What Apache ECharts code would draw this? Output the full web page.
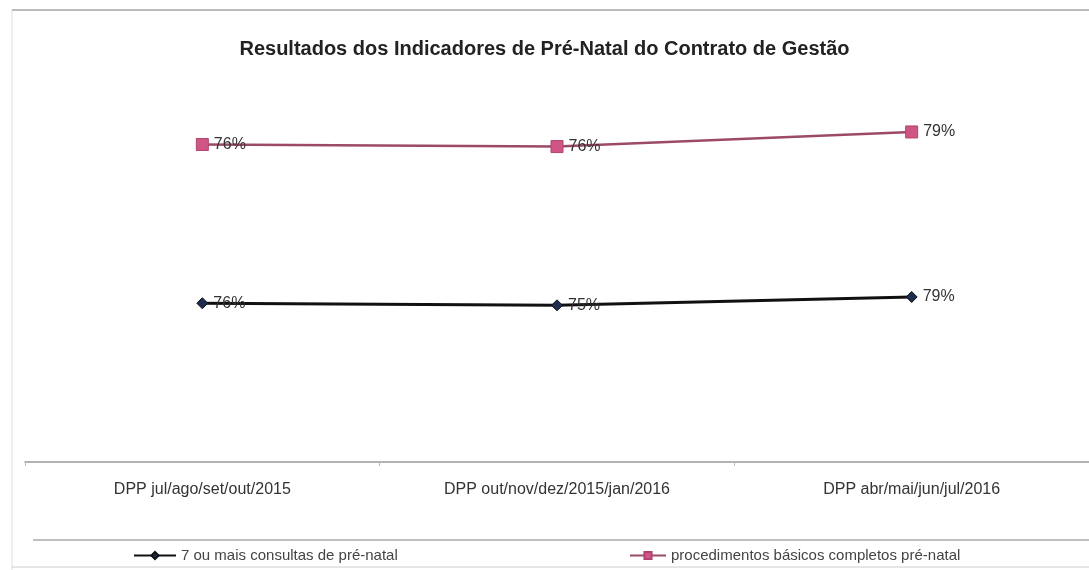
<!DOCTYPE html>
<html>
<head>
<meta charset="utf-8">
<script src="https://cdn.jsdelivr.net/npm/echarts@6/dist/echarts.min.js"></script>
<style>html,body{margin:0;padding:0;background:#fff;}#c{width:1089px;height:570px;}</style>
</head>
<body>
<div id="c"></div>
<script>
const titleText = 'Resultados dos Indicadores de Pré-Natal do Contrato de Gestão';
const categories = ['DPP jul/ago/set/out/2015', 'DPP out/nov/dez/2015/jan/2016', 'DPP abr/mai/jun/jul/2016'];
const seriesNames = ['7 ou mais consultas de pré-natal', 'procedimentos básicos completos pré-natal'];
const consultas = [76, 75, 79];
const procedimentos = [76, 76, 79];

const chart = echarts.init(document.getElementById('c'), null, {renderer: 'canvas'});
const font = 'Liberation Sans, Arial, sans-serif';
chart.setOption({
  backgroundColor: '#fff',
  animation: false,
  title: {
    text: titleText, left: 'center', top: 34,
    textStyle: {fontFamily: font, fontSize: 20, fontWeight: 'bold', color: '#222'}
  },
  grid: {left: 25, right: 0, top: 86, bottom: 108},
  xAxis: {
    type: 'category', data: categories, boundaryGap: true,
    axisLine: {lineStyle: {color: '#999', width: 1.5}},
    axisTick: {show: true, length: 4, lineStyle: {color: '#bbb'}},
    axisLabel: {fontFamily: font, fontSize: 16, color: '#333', margin: 20}
  },
  yAxis: {type: 'value', min: 0, max: 180, show: false, splitLine: {show: false}},
  legend: [
    {data: [seriesNames[0]], left: 128, top: 543, itemWidth: 42, itemHeight: 9, itemGap: 4,
     textStyle: {fontFamily: font, fontSize: 15, color: '#444'}},
    {data: [seriesNames[1]], left: 624, top: 543, itemWidth: 36, itemHeight: 9, itemGap: 4,
     textStyle: {fontFamily: font, fontSize: 15, color: '#444'}}
  ],
  series: [
    {
      name: seriesNames[0], type: 'line', stack: 'total', data: consultas,
      symbol: 'diamond', symbolSize: 11,
      lineStyle: {color: '#111', width: 3},
      itemStyle: {color: '#1d2d4f', borderColor: '#111', borderWidth: 1},
      label: {show: true, position: 'right', distance: 5, formatter: '{c}%',
              fontFamily: font, fontSize: 16, color: '#333'}
    },
    {
      name: seriesNames[1], type: 'line', stack: 'total', data: procedimentos,
      symbol: 'rect', symbolSize: 12,
      lineStyle: {color: '#9c4a68', width: 2.5},
      itemStyle: {color: '#cf5585', borderColor: '#b04470', borderWidth: 1},
      label: {show: true, position: 'right', distance: 5, formatter: '{c}%',
              fontFamily: font, fontSize: 16, color: '#333'}
    }
  ],
  graphic: [
    {type: 'line', shape: {x1: 12, y1: 10, x2: 1089, y2: 10}, style: {stroke: '#bbb', lineWidth: 2}},
    {type: 'line', shape: {x1: 12, y1: 10, x2: 12, y2: 570}, style: {stroke: '#ddd', lineWidth: 1}},
    {type: 'line', shape: {x1: 33, y1: 540, x2: 1089, y2: 540}, style: {stroke: '#aaa', lineWidth: 1.5}},
    {type: 'line', shape: {x1: 12, y1: 567, x2: 1089, y2: 567}, style: {stroke: '#ccc', lineWidth: 1}}
  ]
});
</script>
</body>
</html>
